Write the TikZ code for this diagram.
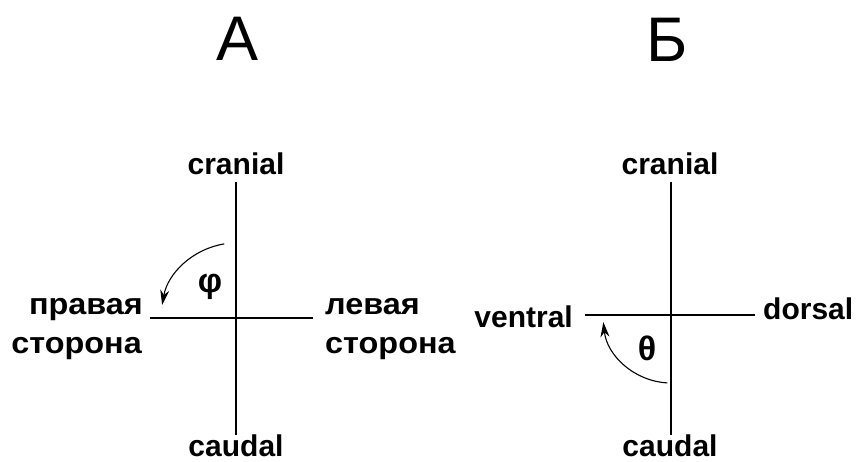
\documentclass[tikz,border=0pt]{standalone}
\usepackage{fontspec}
\setmainfont{Liberation Sans}
\newfontfamily\cyrwide[FakeStretch=1.08]{Liberation Sans}
\usetikzlibrary{arrows.meta}
\begin{document}
\begin{tikzpicture}[x=1pt,y=1pt,
  lbl/.style={inner sep=0pt,font=\fontsize{30}{36}\selectfont\bfseries},
  cyr/.style={inner sep=0pt,font=\cyrwide\fontsize{30}{36}\selectfont\bfseries},
  greek/.style={inner sep=0pt,font=\fontsize{34}{38}\selectfont\bfseries},
  ttl/.style={inner sep=0pt,font=\fontsize{63}{70}\selectfont},
  axis/.style={line width=1.8pt},
  turn/.style={line width=1.1pt,-{Stealth[length=15pt,width=9pt]}}]
\useasboundingbox (0,0) rectangle (859,462);
% titles
\node[ttl,anchor=base] (tA) at (237.5,401) {А};
\node[ttl,anchor=base] (tB) at (667,400) {Б};
% diagram A
\coordinate (oA) at (236,144);
\coordinate (nA) at (236,280);
\coordinate (sA) at (236,27);
\coordinate (wA) at (150,144);
\coordinate (eA) at (313,144);
\draw[axis] (nA) -- (sA);
\draw[axis] (wA) -- (eA);
\node[lbl,anchor=base] (crA) at (236,287) {cranial};
\node[lbl,anchor=base] (caA) at (236,5) {caudal};
\node[cyr,anchor=base east] (prA1) at (143,147) {правая};
\node[cyr,anchor=base east] (prA2) at (142,108) {сторона};
\node[cyr,anchor=base west] (leA1) at (325,147) {левая};
\node[cyr,anchor=base west] (leA2) at (325,108) {сторона};
\node[greek] (phi) at (210,175) {φ};
\draw[turn] (oA) ++(99:75) arc[start angle=99,end angle=170,radius=75];
% diagram B
\coordinate (oB) at (671,147);
\coordinate (nB) at (671,280);
\coordinate (sB) at (671,27);
\coordinate (wB) at (585,147);
\coordinate (eB) at (755,147);
\draw[axis] (nB) -- (sB);
\draw[axis] (wB) -- (eB);
\node[lbl,anchor=base] (crB) at (670,287) {cranial};
\node[lbl,anchor=base] (caB) at (670,5) {caudal};
\node[lbl,anchor=base east] (ve) at (573,134) {ventral};
\node[lbl,anchor=base west] (do) at (763,142) {dorsal};
\node[greek] (theta) at (647,114) {θ};
\draw[turn] (oB) ++(267:68) arc[start angle=267,end angle=186,radius=68];
\end{tikzpicture}
\end{document}
